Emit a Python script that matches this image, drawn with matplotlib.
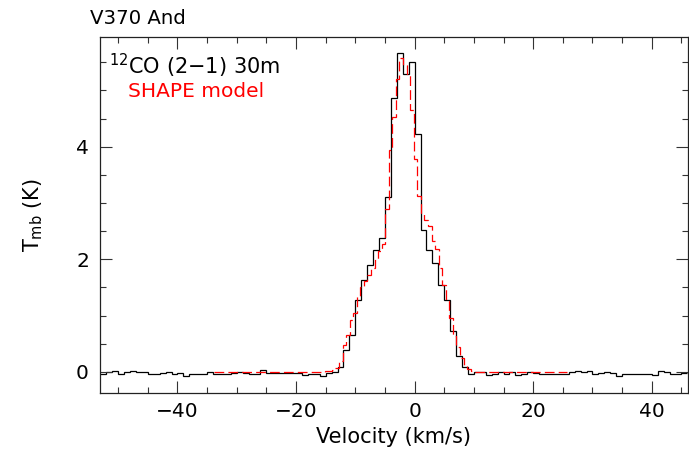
import numpy as np
import matplotlib
matplotlib.use("Agg")
import matplotlib.pyplot as plt

plt.rcParams['font.family'] = ['DejaVu Sans']
plt.rcParams['lines.scale_dashes'] = False

# ---- observed 12CO(2-1) spectrum, 1 km/s channels from -53 to 46 km/s ----
obs_v_start = -53.0
obs_dv = 1.0
obs_base_left = [-0.03, 0.00, 0.02, -0.04, -0.01, 0.01, 0.00, -0.01, -0.03, -0.03,
                 -0.02, -0.01, -0.03, -0.02, -0.07, -0.04, -0.03, -0.04, -0.01, -0.04,
                 -0.03, -0.03, -0.02, -0.01, -0.02, -0.04, -0.04, 0.03, -0.02, -0.02,
                 -0.02, -0.02, -0.02, -0.02, -0.05, -0.03, -0.03, -0.07, -0.02, -0.01]
obs_line = [0.09, 0.39, 0.65, 1.27, 1.63, 1.90, 2.17, 2.38, 3.11, 4.86,
            5.67, 5.30, 5.51, 4.23, 2.52, 2.17, 1.93, 1.55, 1.28, 0.73,
            0.28, 0.08, -0.03]
obs_base_right = [0.00, -0.01, -0.05, -0.03, -0.01, -0.03, 0.00, -0.06, -0.03, -0.01,
                  -0.02, -0.03, -0.04, -0.03, -0.04, -0.03, -0.01, 0.02, 0.00, 0.02,
                  -0.03, -0.02, -0.01, -0.02, -0.08, -0.03, -0.03, -0.04, -0.03, -0.04,
                  -0.05, 0.01, -0.01, -0.03, -0.03, -0.02]
obs_T = obs_base_left + obs_line + obs_base_right

# ---- SHAPE model, 0.6 km/s channels ----
mod_v_start = -33.75
mod_dv = 0.6
mod_zero_left = 31
mod_line = [0.01, 0.02, 0.04, 0.07, 0.20, 0.47, 0.66, 0.92, 1.05, 1.35,
            1.50, 1.62, 1.72, 1.84, 2.00, 2.15, 2.28, 2.90, 3.95, 4.52,
            5.20, 5.57, 5.45, 5.30, 4.65, 3.79, 3.12, 2.80, 2.70, 2.59,
            2.33, 2.19, 1.85, 1.54, 1.26, 0.95, 0.64, 0.45, 0.25, 0.12,
            0.05, 0.02]
mod_zero_right = 26
mod_T = [0.0] * mod_zero_left + mod_line + [0.0] * mod_zero_right

title_text = "V370 And"
line_label = r"$^{12}$CO (2$-$1) 30m"
model_label = "SHAPE model"
xlabel = "Velocity (km/s)"
ylabel = r"T$_{\rm mb}$ (K)"

obs_edges = obs_v_start + obs_dv * np.arange(len(obs_T) + 1)
mod_edges = mod_v_start + mod_dv * np.arange(len(mod_T) + 1)

fig = plt.figure(figsize=(6.89, 4.61), dpi=100)
ax = fig.add_axes([100/689, 1 - 392.7/461, 588/689, (392.7 - 36.7)/461])

ax.stairs(obs_T, obs_edges, color='black', lw=0.9, baseline=None)
ax.stairs(mod_T, mod_edges, color='#ff0000', lw=0.9, baseline=None,
          linestyle=(0, (7, 3)))

ax.set_xlim(-53.06, 46.11)
ax.set_ylim(-0.37, 5.955)

ax.set_xticks([-40, -20, 0, 20, 40])
ax.set_xticks(np.arange(-50, 46, 5), minor=True)
ax.set_yticks([0, 2, 4])
ax.set_yticks(np.arange(0, 6, 0.5), minor=True)
ax.tick_params(which='both', direction='in', top=True, right=True,
               labelsize=14.5, width=0.8, color='#333333')
ax.tick_params(which='major', length=8.5)
ax.tick_params(which='minor', length=4.5)
ax.tick_params(axis='x', pad=7)
ax.tick_params(axis='y', pad=8)
for s in ax.spines.values():
    s.set_linewidth(0.9)
    s.set_color('#222222')

ax.set_xlabel(xlabel, fontsize=15, labelpad=4)
ax.set_ylabel(ylabel, fontsize=15, labelpad=22)

fig.text(90/689, 1 - 24/461, title_text, fontsize=14.2, ha='left', va='baseline')
fig.text(109/689, 1 - 74/461, line_label, fontsize=15, ha='left', va='baseline')
fig.text(128/689, 1 - 97/461, model_label, fontsize=14.5, ha='left', va='baseline',
         color='#ff0000')

fig.savefig("out.png", dpi=100)
